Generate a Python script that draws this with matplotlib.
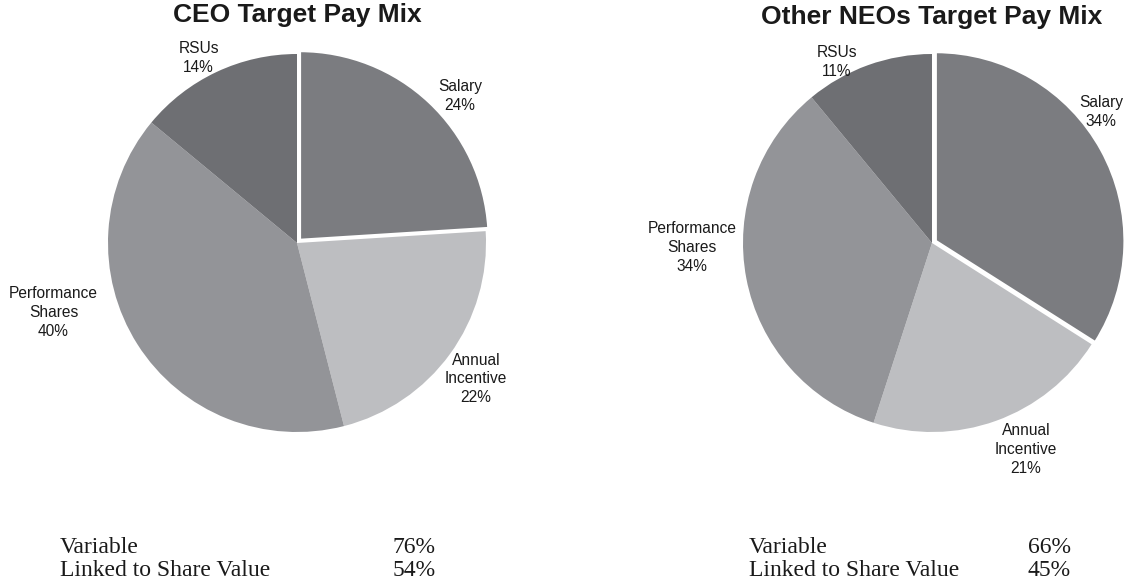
import numpy as np
import matplotlib
matplotlib.use("Agg")
import matplotlib.pyplot as plt

# ---- data ----
categories = ["Salary", "Annual\nIncentive", "Performance\nShares", "RSUs"]
ceo_values = [24, 22, 40, 14]
neo_values = [34, 21, 34, 11]
titles = ["CEO Target Pay Mix", "Other NEOs Target Pay Mix"]
summary_labels = ["Variable", "Linked to Share Value"]
ceo_summary = ["76%", "54%"]
neo_summary = ["66%", "45%"]

# ---- style ----
colors = ["#7b7c80", "#bdbec1", "#939498", "#6e6f73"]
W, H = 1130, 579
fig = plt.figure(figsize=(W / 100, H / 100), dpi=100)

R_PX = 189
AX_PX = R_PX * 2.5


def px_axes(cx, cy):
    return fig.add_axes([(cx - AX_PX / 2) / W, (H - cy - AX_PX / 2) / H, AX_PX / W, AX_PX / H])


# label placement: (angle deg, distance in radii) per category
ceo_lab = [(42, 1.16), (-37.2, 1.19), (195.9, 1.34), (118, 1.11)]
neo_lab = [(37.8, 1.13), (-65.5, 1.20), (181, 1.27), (117.7, 1.08)]

panels = [
    (297, 243, ceo_values, ceo_lab, titles[0], 297, 15, ceo_summary, 60, 393),
    (932, 243, neo_values, neo_lab, titles[1], 932, 17, neo_summary, 749, 1028),
]

for cx, cy, vals, labpos, title, tx, ty, summ, sx1, sx2 in panels:
    ax = px_axes(cx, cy)
    wedges, _ = ax.pie(vals, colors=colors, startangle=90, counterclock=False,
                       explode=[0.022, 0, 0, 0], radius=1.0,
                       wedgeprops=dict(linewidth=0))
    wedges[0].set_edgecolor("white")
    wedges[0].set_linewidth(1.8)
    wedges[0].set_zorder(3)
    ax.set_xlim(-1.25, 1.25)
    ax.set_ylim(-1.25, 1.25)
    for (ang, dist), cat, v in zip(labpos, categories, vals):
        a = np.deg2rad(ang)
        ax.text(dist * np.cos(a), dist * np.sin(a), f"{cat}\n{v}%", ha="center", va="center",
                fontsize=11.2, family="Liberation Sans", color="#1a1a1a", linespacing=1.32)
    fig.text(tx / W, 1 - ty / H, title, ha="center", va="center", fontsize=19,
             fontweight="bold", family="Liberation Sans", color="#1a1a1a")
    for i, (lab, val) in enumerate(zip(summary_labels, summ)):
        base = 553 + i * 22.5
        fig.text(sx1 / W, 1 - base / H, lab, ha="left", va="baseline", fontsize=17,
                 family="Liberation Serif", color="#1a1a1a")
        fig.text(sx2 / W, 1 - base / H, val, ha="left", va="baseline", fontsize=17,
                 family="Liberation Serif", color="#1a1a1a")

fig.savefig("out.png", dpi=100)
